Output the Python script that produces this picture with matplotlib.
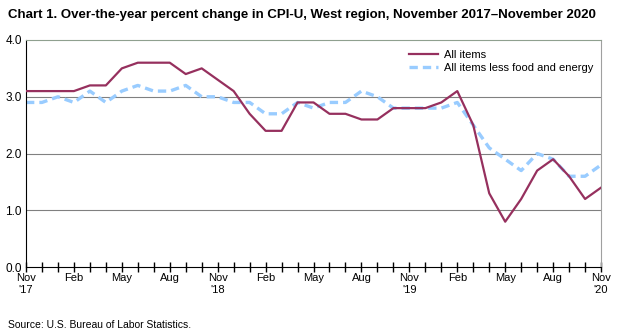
import numpy as np
import matplotlib.pyplot as plt

plt.rcParams['font.family'] = ['Liberation Sans', 'DejaVu Sans']

months = ['Nov', 'Dec', 'Jan', 'Feb', 'Mar', 'Apr', 'May', 'Jun', 'Jul', 'Aug', 'Sep', 'Oct'] * 3 + ['Nov']
years = ["'17", "'18", "'19", "'20"]

all_items = [3.1, 3.1, 3.1, 3.1, 3.2, 3.2, 3.5, 3.6, 3.6, 3.6, 3.4, 3.5,
             3.3, 3.1, 2.7, 2.4, 2.4, 2.9, 2.9, 2.7, 2.7, 2.6, 2.6, 2.8,
             2.8, 2.8, 2.9, 3.1, 2.5, 1.3, 0.8, 1.2, 1.7, 1.9, 1.6, 1.2,
             1.4]
core = [2.9, 2.9, 3.0, 2.9, 3.1, 2.9, 3.1, 3.2, 3.1, 3.1, 3.2, 3.0,
        3.0, 2.9, 2.9, 2.7, 2.7, 2.9, 2.8, 2.9, 2.9, 3.1, 3.0, 2.8,
        2.8, 2.8, 2.8, 2.9, 2.5, 2.1, 1.9, 1.7, 2.0, 1.9, 1.6, 1.6,
        1.8]

x = np.arange(len(months))

fig = plt.figure(figsize=(6.19, 3.36), dpi=100)
ax = fig.add_axes([0.042, 0.205, 0.929, 0.676])

for v in [1, 2, 3]:
    ax.axhline(v, color='#808080', lw=0.8, zorder=1)

ax.plot(x, all_items, color='#96305e', lw=1.6, label='All items', zorder=3)
ax.plot(x, core, color='#99ccff', lw=2.4, ls=(0, (2.5, 1.5)), label='All items less food and energy', zorder=2)

ax.set_xlim(0, 36)
ax.set_ylim(0, 4)
ax.set_yticks([0, 1, 2, 3, 4])
ax.set_yticklabels(['0.0', '1.0', '2.0', '3.0', '4.0'], fontsize=8.5)

ax.set_xticks(x)
labels = []
for i, m in enumerate(months):
    if i % 3 == 0:
        if m == 'Nov':
            labels.append(m + '\n' + years[i // 12])
        else:
            labels.append(m)
    else:
        labels.append('')
ax.set_xticklabels(labels, fontsize=8)
ax.tick_params(axis='x', direction='inout', length=7, width=1, pad=1)
ax.tick_params(axis='y', length=0, pad=3)

ax.spines['left'].set_color('black')
ax.spines['bottom'].set_color('black')
ax.spines['top'].set_color('#8fa08f')
ax.spines['right'].set_color('#a0a0a0')
for s in ['top', 'right']:
    ax.spines[s].set_linewidth(0.8)

ax.legend(loc='upper right', frameon=False, fontsize=8, handlelength=2.6,
          handletextpad=0.5, bbox_to_anchor=(1.0, 0.99), borderaxespad=0.3,
          labelspacing=0.25)

fig.text(0.013, 0.955, 'Chart 1. Over-the-year percent change in CPI-U, West region, November 2017\u2013November 2020',
         fontsize=9.5, fontweight='bold', va='center')
fig.text(0.013, 0.033, 'Source: U.S. Bureau of Labor Statistics.', fontsize=7.5, va='center')

fig.savefig('out.png', dpi=100)
